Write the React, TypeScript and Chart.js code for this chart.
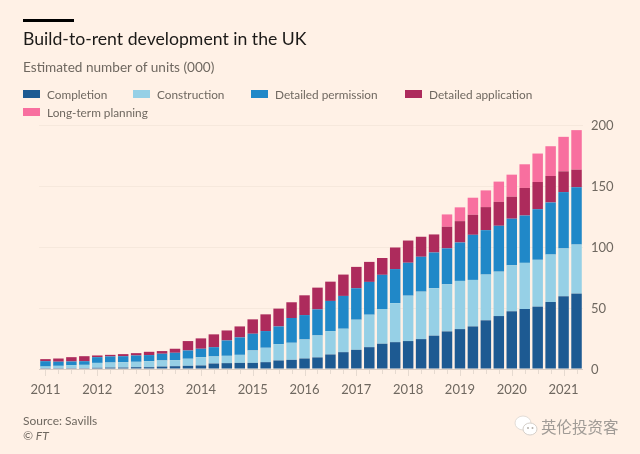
import React, { useEffect, useRef } from "react";
import { Chart, registerables } from "chart.js";

Chart.register(...registerables);

const FONT = "Lato, 'Open Sans', sans-serif";

const quarters = [
  "2011 Q1","2011 Q2","2011 Q3","2011 Q4","2012 Q1","2012 Q2","2012 Q3","2012 Q4",
  "2013 Q1","2013 Q2","2013 Q3","2013 Q4","2014 Q1","2014 Q2","2014 Q3","2014 Q4",
  "2015 Q1","2015 Q2","2015 Q3","2015 Q4","2016 Q1","2016 Q2","2016 Q3","2016 Q4",
  "2017 Q1","2017 Q2","2017 Q3","2017 Q4","2018 Q1","2018 Q2","2018 Q3","2018 Q4",
  "2019 Q1","2019 Q2","2019 Q3","2019 Q4","2020 Q1","2020 Q2","2020 Q3","2020 Q4",
  "2021 Q1","2021 Q2",
];

const completion = [
  0.7,0.7,0.7,0.7,1,1.2,1.2,1.5,1.5,2,2.3,2.6,2.9,4.5,4.8,5,5,5.6,7,7.5,8.6,9.5,
  11.9,13.8,15.7,17.9,20.7,22,22.9,24.5,27.3,30.8,32.7,34.9,39.9,43.4,47.3,49.2,51.1,54.9,59.6,61.8,
];
const construction = [
  1.3,1.9,2.5,2.7,4,4.1,4.4,4.4,4.9,5,5,5.8,6.8,5.8,6,6.6,10.2,11.8,13.4,14,15.6,18,
  19.2,19.2,24.7,26.6,28.5,32,37.2,38.9,38.9,38.6,39.5,38.1,37.5,36.4,37.7,37.8,38.4,38.9,39.2,40.2,
];
const detailedPermission = [
  4.4,3.4,3,3,4.7,5,4.9,5.2,5,5.5,6,6.8,6.9,7.6,12.6,14.3,13.7,13.7,14.5,20.3,20,21.4,
  24.7,26.9,25.8,26.9,28,27.9,27,28.6,29.3,29.5,31.5,37,36.4,37.6,38.2,38.8,41.5,42.7,46.2,47,
];
const detailedApplication = [
  1.7,2.6,3.5,4.1,1.4,1.3,1.7,1.9,2.7,2.2,3.3,7.7,8.5,10.5,8.2,9,11.8,13.7,14.6,12.9,16.2,17.8,
  15.8,17.5,17.5,16.4,13.8,17.7,18.2,16.4,14.8,17.7,17.5,16.4,18.9,19.6,18,22.6,22.3,21.7,17,14.4,
];
const longTermPlanning = [
  0,0,0,0,0,0,0,0,0,0,0,0,0,0,0,0,0,0,0,0,0,0,
  0,0,0,0,0,0,0,0,0,10.1,11.3,14,13.7,16.6,18.1,19.4,23.3,24.4,28.3,32.4,
];

const seriesNames = ["Completion", "Construction", "Detailed permission", "Detailed application", "Long-term planning"];
const seriesValues = [completion, construction, detailedPermission, detailedApplication, longTermPlanning];
const seriesColours = ["#1d5a92", "#96d0e6", "#2088c8", "#ad2b5c", "#f86f9f"];
const yTicks = [0, 50, 100, 150, 200];

const text = (x: number, y: number, size: number, color: string, extra: React.CSSProperties = {}): React.CSSProperties => ({
  position: "absolute", left: x, top: y, fontSize: size, lineHeight: "20px", color, fontFamily: FONT, whiteSpace: "nowrap", ...extra,
});

const legendPos = [[23, 94], [133, 94], [251, 94], [405, 94], [23, 112]];

export default function App() {
  const ref = useRef<HTMLCanvasElement>(null);
  useEffect(() => {
    document.body.style.margin = "0";
    const tickMarks = {
      id: "tickMarks",
      afterDatasetsDraw(chart: any) {
        const { ctx, scales } = chart;
        const x = scales.x;
        const y0 = scales.y.getPixelForValue(0);
        ctx.save();
        ctx.strokeStyle = "#e6dad0";
        ctx.lineWidth = 1;
        quarters.forEach((q, i) => {
          const px = Math.round(x.getPixelForValue(i)) + 0.5;
          ctx.beginPath();
          ctx.moveTo(px, y0 + 1);
          ctx.lineTo(px, y0 + (q.endsWith("Q1") ? 7 : 5));
          ctx.stroke();
        });
        ctx.restore();
      },
    };
    const chart = new Chart(ref.current!, {
      type: "bar",
      data: {
        labels: quarters,
        datasets: seriesNames.map((n, i) => ({
          label: n,
          data: seriesValues[i],
          backgroundColor: seriesColours[i],
          borderWidth: 0,
          categoryPercentage: 1,
          barPercentage: 0.81,
        })),
      },
      options: {
        animation: false,
        responsive: false,
        layout: { padding: { left: 39, top: 125, right: 0, bottom: 0 } },
        plugins: { legend: { display: false }, tooltip: { enabled: false } },
        scales: {
          x: {
            stacked: true,
            grid: { display: false, drawTicks: false },
            border: { display: false },
            afterFit: (s: any) => { s.height = 85; },
            ticks: {
              autoSkip: false,
              maxRotation: 0,
              minRotation: 0,
              padding: 13,
              color: "#6f6860",
              font: { family: FONT, size: 13 },
              callback: (_v: any, i: number) => (quarters[i].endsWith("Q1") ? quarters[i].slice(0, 4) : ""),
            },
          },
          y: {
            position: "right",
            stacked: true,
            min: 0,
            max: 200,
            afterBuildTicks: (s: any) => { s.ticks = yTicks.map((value) => ({ value })); },
            afterFit: (s: any) => { s.width = 57; },
            grid: {
              color: (c: any) => (c.tick && c.tick.value === 0 ? "#d9cdc3" : "#f6e8dc"),
              drawTicks: false,
            },
            border: { display: false },
            ticks: {
              padding: 8,
              labelOffset: 1,
              color: "#6f6860",
              font: { family: FONT, size: 13 },
            },
          },
        },
      },
      plugins: [tickMarks],
    } as any);
    return () => chart.destroy();
  }, []);

  return (
    <div style={{ position: "relative", width: 640, height: 454, background: "#fff1e6", overflow: "hidden" }}>
      <canvas ref={ref} width={640} height={454} style={{ position: "absolute", left: 0, top: 0 }} />
      <div style={{ position: "absolute", left: 23, top: 19, width: 51, height: 3, background: "#000" }} />
      <div style={text(23, 29, 17.65, "#1c1a18")}>Build-to-rent development in the UK</div>
      <div style={text(23, 57, 13.6, "#6f6860")}>Estimated number of units (000)</div>
      {seriesNames.map((n, i) => (
        <div key={n} style={{ position: "absolute", left: legendPos[i][0], top: legendPos[i][1] - 10, height: 20, display: "flex", alignItems: "center" }}>
          <span style={{ width: 17, height: 8, background: seriesColours[i], display: "inline-block", marginRight: 7 }} />
          <span style={{ fontFamily: FONT, fontSize: 11.8, color: "#6f6860" }}>{n}</span>
        </div>
      ))}
      <div style={text(23, 411, 12, "#6f6860")}>Source: Savills</div>
      <div style={text(23, 426, 12, "#6f6860", { fontStyle: "italic" })}>© FT</div>
      <svg width="24" height="24" style={{ position: "absolute", left: 514, top: 414 }}>
        <ellipse cx="9" cy="9" rx="8" ry="7" fill="#fff" stroke="#e2dcd6" />
        <ellipse cx="16" cy="15" rx="7" ry="6" fill="#fff" stroke="#d5cfc9" />
        <circle cx="14" cy="14" r="1" fill="#b5afa9" />
        <circle cx="18.5" cy="14" r="1" fill="#b5afa9" />
      </svg>
      <div style={text(541, 416, 15.5, "#a09b96", { fontFamily: "'Noto Sans CJK SC'" })}>英伦投资客</div>
    </div>
  );
}
